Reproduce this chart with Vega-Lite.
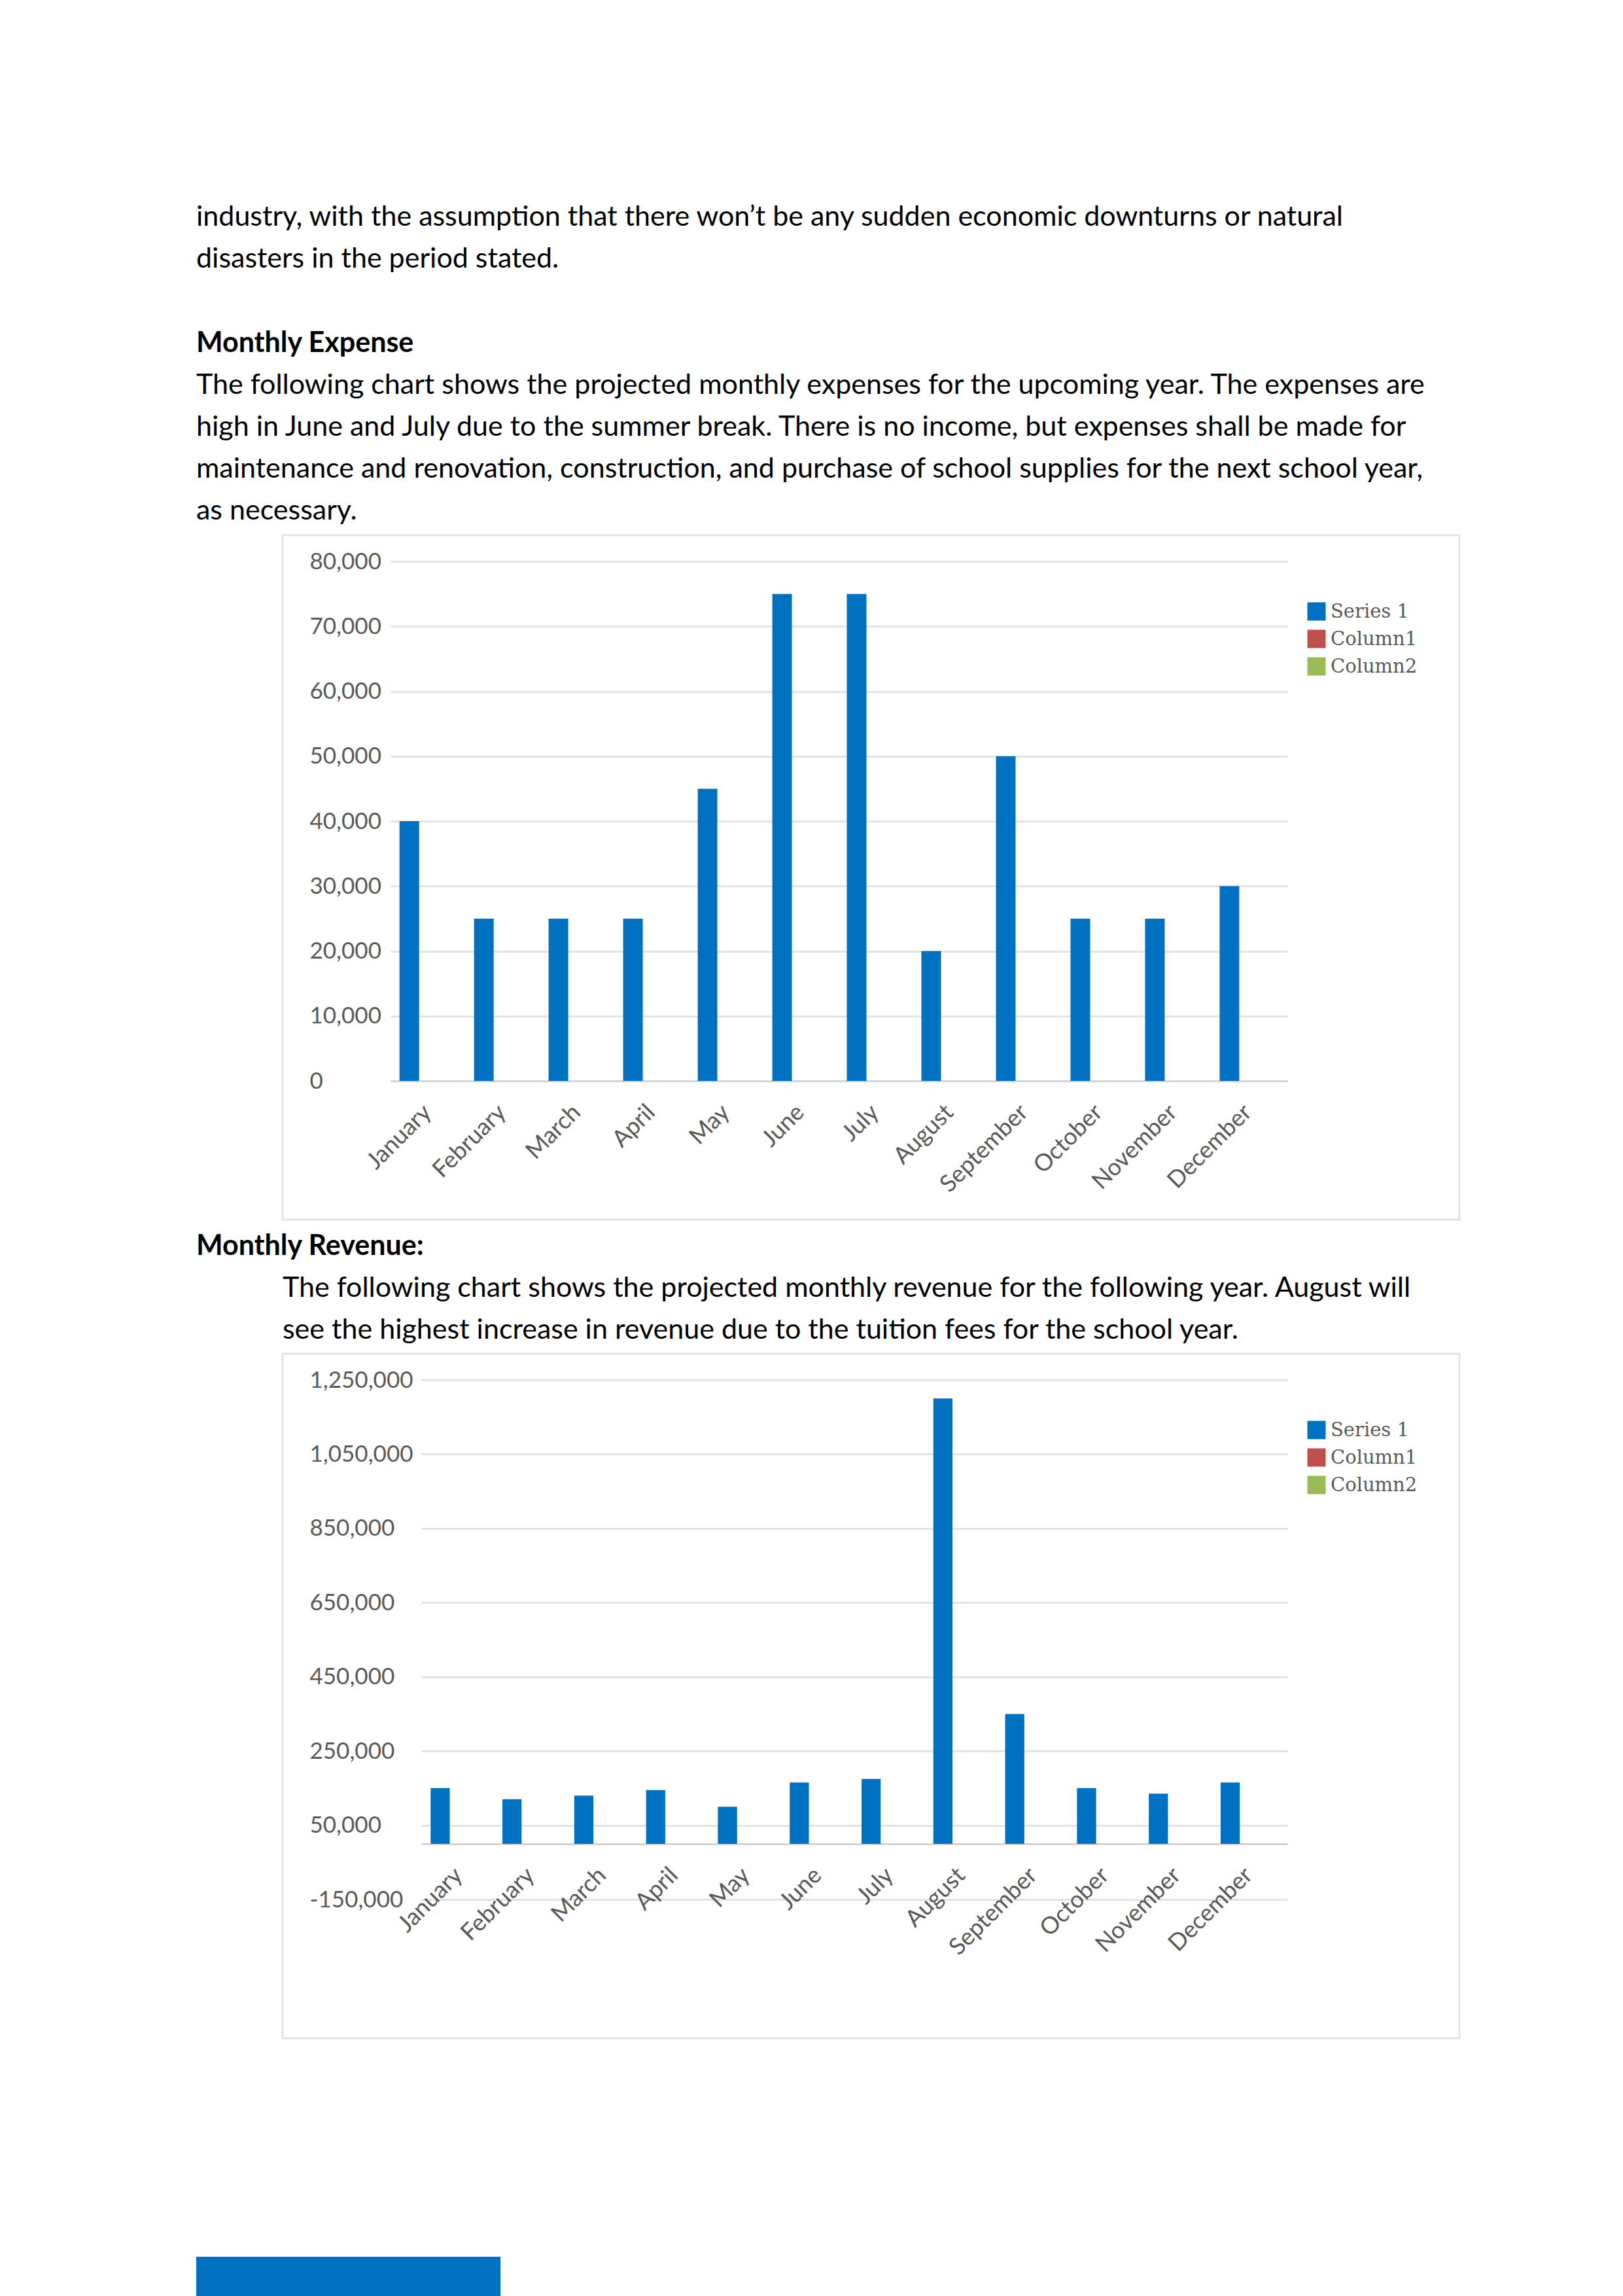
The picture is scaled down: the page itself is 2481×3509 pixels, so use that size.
{
  "$schema": "https://vega.github.io/schema/vega-lite/v6.json",
  "background": "white",
  "autosize": {"type": "pad"},
  "padding": {"left": 300, "top": 311, "right": 248, "bottom": 0},
  "config": {
    "view": {"stroke": null},
    "font": "Lato"
  },
  "columns": 2,
  "spacing": {"row": 0, "column": -333},
  "bounds": "flush",
  "align": {"row": "each", "column": "none"},
  "resolve": {
    "scale": {"x": "independent", "y": "independent", "xOffset": "independent", "color": "independent"},
    "legend": {"color": "independent"},
    "axis": {"x": "independent", "y": "independent"}
  },
  "concat": [
    {
      "width": 1,
      "height": 473,
      "data": {"values": [
        {"line": 0, "kind": "body", "text": "industry, with the assumption that there won’t be any sudden economic downturns or natural"},
        {"line": 1, "kind": "body", "text": "disasters in the period stated."},
        {"line": 3, "kind": "heading", "text": "Monthly Expense"},
        {"line": 4, "kind": "body", "text": "The following chart shows the projected monthly expenses for the upcoming year. The expenses are"},
        {"line": 5, "kind": "body", "text": "high in June and July due to the summer break. There is no income, but expenses shall be made for"},
        {"line": 6, "kind": "body", "text": "maintenance and renovation, construction, and purchase of school supplies for the next school year,"},
        {"line": 7, "kind": "body", "text": "as necessary."}
      ]},
      "layer": [
        {
          "transform": [{"filter": "datum.kind === 'body'"}],
          "mark": {"type": "text", "align": "left", "baseline": "alphabetic", "font": "Lato", "fontSize": 43, "color": "#000000"},
          "encoding": {
            "x": {"value": 0},
            "y": {"field": "line", "type": "quantitative", "scale": {"domain": [0, 7.368], "reverse": true, "nice": false, "zero": false}, "axis": null},
            "text": {"field": "text"}
          }
        },
        {
          "transform": [{"filter": "datum.kind === 'heading'"}],
          "mark": {"type": "text", "align": "left", "baseline": "alphabetic", "font": "Lato", "fontSize": 43, "fontWeight": "bold", "color": "#000000"},
          "encoding": {
            "x": {"value": 0},
            "y": {"field": "line", "type": "quantitative", "scale": {"domain": [0, 7.368], "reverse": true, "nice": false, "zero": false}, "axis": null},
            "text": {"field": "text"}
          }
        }
      ]
    },
    {"width": 1799, "height": 473, "data": {"values": []}, "mark": {"type": "point", "opacity": 0}},
    {"width": 1, "height": 1100, "data": {"values": []}, "mark": {"type": "point", "opacity": 0}},
    {
      "width": 1799,
      "height": 1046,
      "view": {"stroke": "#e4e4e4", "strokeWidth": 3},
      "data": {"values": [
        {"month": "January", "series": "Series 1", "expense": 40000},
        {"month": "February", "series": "Series 1", "expense": 25000},
        {"month": "March", "series": "Series 1", "expense": 25000},
        {"month": "April", "series": "Series 1", "expense": 25000},
        {"month": "May", "series": "Series 1", "expense": 45000},
        {"month": "June", "series": "Series 1", "expense": 75000},
        {"month": "July", "series": "Series 1", "expense": 75000},
        {"month": "August", "series": "Series 1", "expense": 20000},
        {"month": "September", "series": "Series 1", "expense": 50000},
        {"month": "October", "series": "Series 1", "expense": 25000},
        {"month": "November", "series": "Series 1", "expense": 25000},
        {"month": "December", "series": "Series 1", "expense": 30000}
      ]},
      "mark": {"type": "bar"},
      "encoding": {
        "x": {
          "field": "month", "type": "nominal", "sort": null,
          "scale": {"range": [165, 1536], "paddingInner": 0.211, "paddingOuter": 0.12},
          "axis": {"title": null, "orient": "bottom", "offset": -212, "domain": true, "domainColor": "#d4d4d4", "domainWidth": 3, "ticks": false, "grid": false, "labelAngle": -45, "labelAlign": "right", "labelBaseline": "top", "labelPadding": 30, "labelOffset": -14, "labelFont": "Lato", "labelFontSize": 36, "labelColor": "#595959", "labelOverlap": false}
        },
        "xOffset": {"field": "series", "type": "nominal", "scale": {"domain": ["Series 1", "Column1", "Column2"], "paddingInner": 0, "paddingOuter": 0}},
        "y": {
          "field": "expense", "type": "quantitative",
          "scale": {"domain": [0, 80000], "range": [834, 40], "nice": false},
          "axis": {"title": null, "values": [0, 10000, 20000, 30000, 40000, 50000, 60000, 70000, 80000], "format": ",.0f", "grid": true, "gridColor": "#e3e3e3", "gridWidth": 3, "domain": false, "ticks": false, "tickSize": 0, "labelAlign": "left", "labelBaseline": "middle", "labelPadding": -41, "labelFont": "Lato", "labelFontSize": 35, "labelColor": "#595959"}
        },
        "color": {
          "field": "series", "type": "nominal",
          "scale": {"domain": ["Series 1", "Column1", "Column2"], "range": ["#0070C0", "#C0504D", "#9BBB59"]},
          "legend": {"orient": "none", "legendX": 1566, "legendY": 102, "title": null, "padding": 0, "symbolType": "square", "symbolSize": 784, "symbolStrokeWidth": 0, "labelFont": "DejaVu Serif", "labelFontSize": 29, "labelColor": "#595959", "labelOffset": 7, "rowPadding": 12}
        }
      }
    },
    {
      "width": 1,
      "height": 151,
      "data": {"values": [
        {"line": 0, "kind": "heading", "text": "Monthly Revenue:"},
        {"line": 1, "kind": "body", "text": "The following chart shows the projected monthly revenue for the following year. August will"},
        {"line": 2, "kind": "body", "text": "see the highest increase in revenue due to the tuition fees for the school year."}
      ]},
      "layer": [
        {
          "transform": [{"filter": "datum.kind === 'body'"}],
          "mark": {"type": "text", "align": "left", "baseline": "alphabetic", "font": "Lato", "fontSize": 43, "color": "#000000", "dx": 132},
          "encoding": {
            "x": {"value": 0},
            "y": {"field": "line", "type": "quantitative", "scale": {"domain": [0, 2.352], "reverse": true, "nice": false, "zero": false}, "axis": null},
            "text": {"field": "text"}
          }
        },
        {
          "transform": [{"filter": "datum.kind === 'heading'"}],
          "mark": {"type": "text", "align": "left", "baseline": "alphabetic", "font": "Lato", "fontSize": 43, "fontWeight": "bold", "color": "#000000"},
          "encoding": {
            "x": {"value": 0},
            "y": {"field": "line", "type": "quantitative", "scale": {"domain": [0, 2.352], "reverse": true, "nice": false, "zero": false}, "axis": null},
            "text": {"field": "text"}
          }
        }
      ]
    },
    {"width": 1799, "height": 151, "data": {"values": []}, "mark": {"type": "point", "opacity": 0}},
    {"width": 1, "height": 1380, "data": {"values": []}, "mark": {"type": "point", "opacity": 0}},
    {
      "width": 1799,
      "height": 1046,
      "view": {"stroke": "#e4e4e4", "strokeWidth": 3},
      "data": {"values": [
        {"month": "January", "series": "Series 1", "revenue": 150000},
        {"month": "February", "series": "Series 1", "revenue": 120000},
        {"month": "March", "series": "Series 1", "revenue": 130000},
        {"month": "April", "series": "Series 1", "revenue": 145000},
        {"month": "May", "series": "Series 1", "revenue": 100000},
        {"month": "June", "series": "Series 1", "revenue": 165000},
        {"month": "July", "series": "Series 1", "revenue": 175000},
        {"month": "August", "series": "Series 1", "revenue": 1200000},
        {"month": "September", "series": "Series 1", "revenue": 350000},
        {"month": "October", "series": "Series 1", "revenue": 150000},
        {"month": "November", "series": "Series 1", "revenue": 135000},
        {"month": "December", "series": "Series 1", "revenue": 165000}
      ]},
      "mark": {"type": "bar"},
      "encoding": {
        "x": {
          "field": "month", "type": "nominal", "sort": null,
          "scale": {"range": [212, 1536], "paddingInner": 0.2, "paddingOuter": 0.13},
          "axis": {"title": null, "orient": "bottom", "offset": -297, "domain": true, "domainColor": "#d4d4d4", "domainWidth": 3, "ticks": false, "grid": false, "labelAngle": -45, "labelAlign": "right", "labelBaseline": "top", "labelPadding": 30, "labelOffset": -13, "labelFont": "Lato", "labelFontSize": 36, "labelColor": "#595959", "labelOverlap": false}
        },
        "xOffset": {"field": "series", "type": "nominal", "scale": {"domain": ["Series 1", "Column1", "Column2"], "paddingInner": 0, "paddingOuter": 0}},
        "y": {
          "field": "revenue", "type": "quantitative",
          "scale": {"domain": [-150000, 1250000], "range": [834, 40], "nice": false},
          "axis": {"title": null, "values": [-150000, 50000, 250000, 450000, 650000, 850000, 1050000, 1250000], "format": ",.0f", "labelExpr": "replace(datum.label, '\u2212', '-')", "grid": true, "gridColor": "#e3e3e3", "gridWidth": 3, "domain": false, "ticks": false, "tickSize": 0, "labelAlign": "left", "labelBaseline": "middle", "labelPadding": -41, "labelFont": "Lato", "labelFontSize": 35, "labelColor": "#595959"}
        },
        "color": {
          "field": "series", "type": "nominal",
          "scale": {"domain": ["Series 1", "Column1", "Column2"], "range": ["#0070C0", "#C0504D", "#9BBB59"]},
          "legend": {"orient": "none", "legendX": 1566, "legendY": 102, "title": null, "padding": 0, "symbolType": "square", "symbolSize": 784, "symbolStrokeWidth": 0, "labelFont": "DejaVu Serif", "labelFontSize": 29, "labelColor": "#595959", "labelOffset": 7, "rowPadding": 12}
        }
      }
    },
    {
      "width": 465,
      "height": 62,
      "view": {"fill": "#0070C0", "stroke": null},
      "data": {"values": []},
      "mark": {"type": "point", "opacity": 0}
    }
  ]
}
